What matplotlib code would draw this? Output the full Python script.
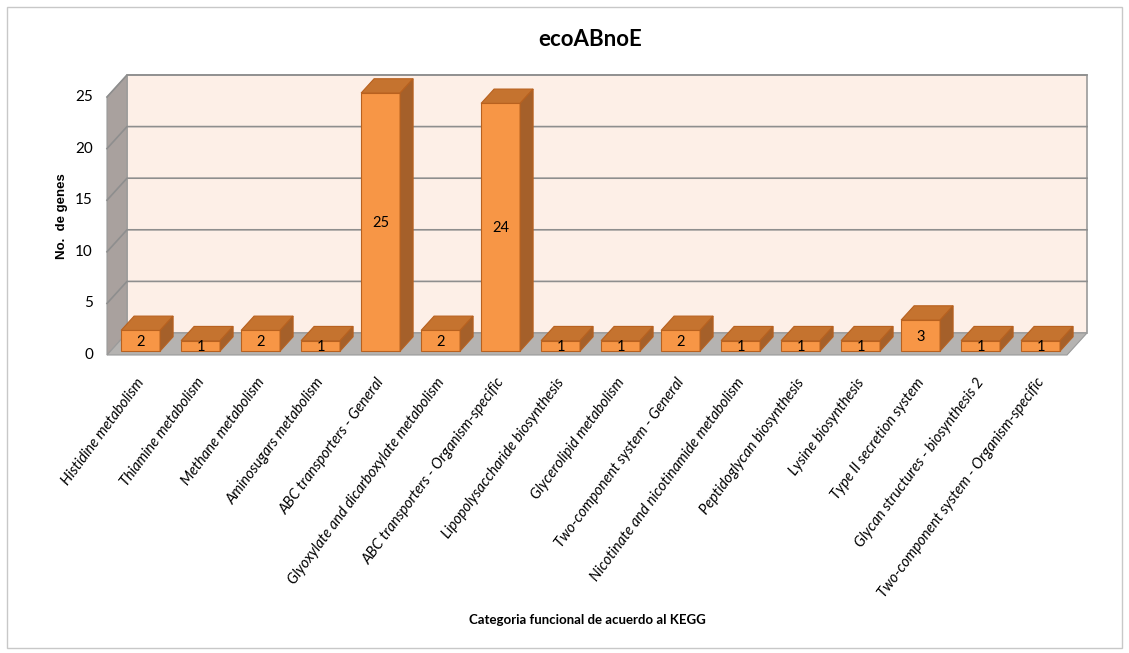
import matplotlib.pyplot as plt
import matplotlib.transforms as mtransforms
from matplotlib.patches import Polygon, Rectangle

categories = ['Histidine metabolism', 'Thiamine metabolism', 'Methane metabolism',
              'Aminosugars metabolism', 'ABC transporters - General',
              'Glyoxylate and dicarboxylate metabolism',
              'ABC transporters - Organism-specific', 'Lipopolysaccharide biosynthesis',
              'Glycerolipid metabolism', 'Two-component system - General',
              'Nicotinate and nicotinamide metabolism', 'Peptidoglycan biosynthesis',
              'Lysine biosynthesis', 'Type II secretion system',
              'Glycan structures - biosynthesis 2', 'Two-component system - Organism-specific']
genes = [2, 1, 2, 1, 25, 2, 24, 1, 1, 2, 1, 1, 1, 3, 1, 1]
yticks = [0, 5, 10, 15, 20, 25]

W, H = 1129, 653
fig = plt.figure(figsize=(W / 100, H / 100), dpi=100)
fig.add_artist(Rectangle((7 / W, 5 / H), 1115 / W, 641 / H, transform=fig.transFigure,
                         fill=False, edgecolor='#C8C8C8', lw=1))

# axes cover the front plane of the 3d box
ax = fig.add_axes([107 / W, (H - 355) / H, 960 / W, 258 / H])
n = len(categories)
ax.set_xlim(-0.5, n - 0.5)
ax.set_ylim(0, 25)
for s in ax.spines.values():
    s.set_visible(False)
ax.set_xticks([])
ax.set_yticks([])

# depth offsets (data units for full depth)
DX = 20 / 60
DY = 22 / 10.32


def proj(x, y, z):
    return (x + z * DX, y + z * DY)


def face(pts, fc, ec, lw=0.8, zorder=1):
    ax.add_patch(Polygon(pts, closed=True, facecolor=fc, edgecolor=ec, lw=lw,
                         clip_on=False, zorder=zorder))


x0, x1 = -0.5, n - 0.5
ymax = yticks[-1]
# back wall
face([proj(x0, 0, 1), proj(x1, 0, 1), proj(x1, ymax, 1), proj(x0, ymax, 1)],
     '#FDEFE7', '#9A9A9A', lw=1.2)
# left wall
face([proj(x0, 0, 0), proj(x0, 0, 1), proj(x0, ymax, 1), proj(x0, ymax, 0)],
     '#A9A19E', '#9A9A9A', lw=0.8)
# floor
face([proj(x0, 0, 0), proj(x1, 0, 0), proj(x1, 0, 1), proj(x0, 0, 1)],
     '#B5B3B1', '#9A9A9A', lw=0.8)

# gridlines and tick labels
shift = ax.transData + mtransforms.ScaledTranslation(-14 / 100, 0, fig.dpi_scale_trans)
for t in yticks:
    if t > 0:
        a, b, c = proj(x0, t, 0), proj(x0, t, 1), proj(x1, t, 1)
        ax.plot([a[0], b[0], c[0]], [a[1], b[1], c[1]], color='#8E8E8E', lw=1.2,
                clip_on=False, zorder=2)
    ax.text(x0, t, str(t), ha='right', va='center', fontsize=11, family='Lato',
            transform=shift)

# bars
bw = 0.65
z0, z1 = 0.18, 0.83
edge = '#B8611F'
for i, v in enumerate(genes):
    l, r = i - bw / 2, i + bw / 2
    face([proj(l, 0, z0), proj(r, 0, z0), proj(r, v, z0), proj(l, v, z0)],
         '#F79646', edge, zorder=3)
    face([proj(l, v, z0), proj(r, v, z0), proj(r, v, z1), proj(l, v, z1)],
         '#C5732F', edge, zorder=3)
    face([proj(r, 0, z0), proj(r, 0, z1), proj(r, v, z1), proj(r, v, z0)],
         '#A5602A', edge, zorder=3)
    cx, cy = proj(i, v / 2, z0)
    ax.text(cx, cy - 0.1, str(v), ha='center', va='center', fontsize=10.5,
            family='Lato', zorder=4)
    # category label
    ax.text(i - 0.02, -2.0, categories[i], ha='right', va='top', rotation=53.5,
            rotation_mode='anchor', fontsize=10.6, style='italic', family='Lato')

fig.text(590 / W, 1 - 40 / H, 'ecoABnoE', ha='center', va='center', fontsize=16,
         fontweight='bold', family='Lato')
fig.text(62 / W, 1 - 216 / H, 'No.  de genes', ha='center', va='center', rotation=90,
         fontsize=9.5, fontweight='bold', family='Liberation Sans')
fig.text(587 / W, 1 - 620 / H, 'Categoria funcional de acuerdo al KEGG', ha='center',
         va='center', fontsize=9.5, fontweight='bold', family='Lato')

fig.savefig('out.png', dpi=100)
